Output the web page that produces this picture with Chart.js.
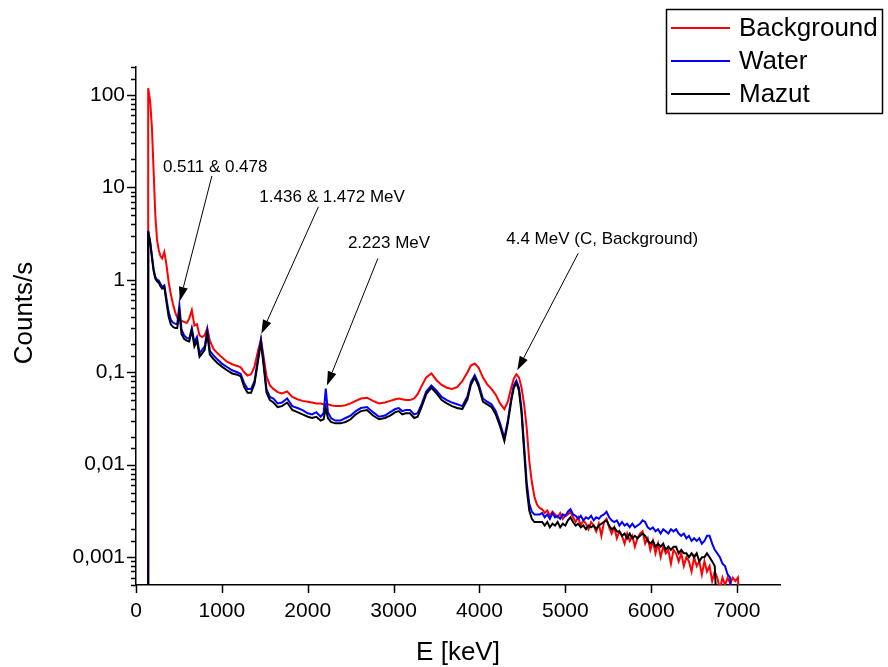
<!DOCTYPE html>
<html>
<head>
<meta charset="utf-8">
<script src="https://cdn.jsdelivr.net/npm/chart.js@4.4.1/dist/chart.umd.min.js"></script>
<style>
  html, body { margin: 0; padding: 0; background: #fff; }
  #spectrum { display: block; }
</style>
</head>
<body>
<canvas id="spectrum" width="888" height="667"></canvas>
<script>
// Energy grid (keV) shared by the three spectra
const energyKeV = [
  140, 142, 165, 185, 205, 225, 245, 265, 285, 305,
  330, 355, 380, 405, 430, 455, 480, 505, 530, 560,
  590, 620, 650, 680, 710, 740, 770, 800, 830, 860,
  900, 950, 1000, 1060, 1120, 1180, 1220, 1260, 1300, 1340,
  1380, 1420, 1455, 1490, 1520, 1560, 1600, 1650, 1700, 1760,
  1820, 1880, 1940, 2000, 2050, 2100, 2150, 2185, 2210, 2235,
  2270, 2320, 2380, 2440, 2500, 2560, 2620, 2690, 2760, 2830,
  2900, 2960, 3020, 3060, 3100, 3140, 3190, 3240, 3280, 3330,
  3380, 3440, 3500, 3560, 3620, 3680, 3740, 3800, 3860, 3900,
  3945, 3990, 4040, 4090, 4140, 4190, 4240, 4290, 4330, 4370,
  4400, 4430, 4460, 4490, 4520, 4550, 4580, 4610, 4640, 4670,
  4700, 4730, 4760, 4790, 4820, 4850, 4880, 4910, 4940, 4970,
  5000, 5030, 5060, 5090, 5120, 5150, 5180, 5210, 5240, 5270,
  5300, 5330, 5360, 5390, 5420, 5450, 5480, 5510, 5540, 5570,
  5600, 5630, 5660, 5690, 5720, 5750, 5780, 5810, 5840, 5870,
  5900, 5930, 5960, 5990, 6020, 6050, 6080, 6110, 6140, 6170,
  6200, 6230, 6260, 6290, 6320, 6350, 6380, 6410, 6440, 6470,
  6500, 6530, 6560, 6590, 6620, 6650, 6680, 6710, 6740, 6770,
  6800, 6830, 6860, 6890, 6920, 6950, 6980, 7010, 7040
];

// Counts/s
const backgroundCounts = [
  0.0001, 118, 85, 45, 15, 5.0, 2.7, 2.1, 1.8, 1.7,
  2.0, 1.45, 0.95, 0.7, 0.55, 0.45, 0.39, 0.36, 0.36, 0.35,
  0.34, 0.38, 0.47, 0.32, 0.33, 0.25, 0.24, 0.25, 0.30, 0.22,
  0.18, 0.16, 0.145, 0.13, 0.122, 0.117, 0.113, 0.10, 0.092, 0.095,
  0.115, 0.17, 0.225, 0.14, 0.09, 0.072, 0.066, 0.061, 0.059, 0.062,
  0.054, 0.051, 0.049, 0.048, 0.047, 0.046, 0.046, 0.045, 0.045, 0.045,
  0.044, 0.043, 0.043, 0.044, 0.046, 0.049, 0.052, 0.053, 0.049, 0.046,
  0.047, 0.049, 0.051, 0.052, 0.051, 0.05, 0.05, 0.052, 0.058, 0.072,
  0.088, 0.097, 0.082, 0.073, 0.068, 0.066, 0.069, 0.08, 0.1, 0.118,
  0.124, 0.112, 0.088, 0.074, 0.066, 0.057, 0.046, 0.04, 0.048, 0.068,
  0.085, 0.095, 0.088, 0.068, 0.045, 0.025, 0.011, 0.0065, 0.0045, 0.0037,
  0.0034, 0.0033, 0.0030, 0.0032, 0.0028, 0.0031, 0.0029, 0.0027, 0.0030, 0.0026,
  0.0028, 0.0029, 0.0031, 0.0027, 0.0024, 0.0027, 0.0022, 0.0025, 0.0023, 0.0020,
  0.0024, 0.0022, 0.0019, 0.0023, 0.0017, 0.0024, 0.0026, 0.0021, 0.0018, 0.0021,
  0.0016, 0.0019, 0.0017, 0.0014, 0.0018, 0.0015, 0.0017, 0.0013, 0.0016, 0.0018,
  0.0019, 0.0014, 0.0016, 0.0012, 0.0015, 0.0011, 0.0014, 0.0010, 0.0013, 0.0011,
  0.0012, 0.00085, 0.0012, 0.0011, 0.0009, 0.0011, 0.0008, 0.0010, 0.0009, 0.0007,
  0.0010, 0.0008, 0.0009, 0.00065, 0.0009, 0.0007, 0.0008, 0.00055, 0.0007, 0.0006,
  0.00045, 0.0006, 0.0005, 0.0006, 0.00052, 0.0006, 0.00055, 0.0006, 0.0002
];

const waterCounts = [
  0.0001, 3.4, 2.6, 1.85, 1.3, 1.07, 1.0, 0.98, 0.9, 0.83,
  0.87, 0.62, 0.45, 0.37, 0.345, 0.335, 0.33, 0.53, 0.29, 0.25,
  0.235, 0.23, 0.30, 0.21, 0.24, 0.16, 0.175, 0.19, 0.285, 0.17,
  0.153, 0.137, 0.124, 0.114, 0.105, 0.1, 0.096, 0.076, 0.066, 0.066,
  0.08, 0.14, 0.225, 0.12, 0.065, 0.054, 0.052, 0.046, 0.047, 0.052,
  0.043, 0.041, 0.039, 0.036, 0.035, 0.037, 0.033, 0.036, 0.0665, 0.037,
  0.032, 0.030, 0.030, 0.032, 0.034, 0.038, 0.041, 0.042, 0.037, 0.033,
  0.034, 0.037, 0.040, 0.041, 0.038, 0.039, 0.039, 0.035, 0.036, 0.046,
  0.062, 0.072, 0.063, 0.054, 0.05, 0.047, 0.045, 0.043, 0.055, 0.078,
  0.093, 0.075, 0.052, 0.048, 0.045, 0.038, 0.028, 0.0196, 0.03, 0.052,
  0.072, 0.081, 0.068, 0.04, 0.016, 0.0065, 0.0038, 0.0031, 0.0029, 0.0029,
  0.0029, 0.0030, 0.0027, 0.0029, 0.0026, 0.0030, 0.0027, 0.0028, 0.0026, 0.0029,
  0.0028, 0.0031, 0.0033, 0.0029, 0.0028, 0.0026, 0.0028, 0.0025, 0.0027, 0.0026,
  0.0028, 0.0025, 0.0027, 0.0026, 0.0028, 0.0029, 0.0031, 0.0027, 0.0025, 0.0024,
  0.0025, 0.0022, 0.0024, 0.0022, 0.0023, 0.0021, 0.0023, 0.0021, 0.0022, 0.0023,
  0.0025, 0.0024, 0.0021, 0.0020, 0.0021, 0.0019, 0.0020, 0.0018, 0.0020, 0.0019,
  0.0018, 0.0020, 0.0019, 0.0020, 0.0018, 0.0017, 0.0018, 0.0016, 0.0017, 0.0015,
  0.0016, 0.0015, 0.0016, 0.0014, 0.0015, 0.0017, 0.0017, 0.0014, 0.0012, 0.0011,
  0.0010, 0.00085, 0.0008, 0.00065, 0.0006, 0.0002, null, null, null
];

const mazutCounts = [
  0.0001, 3.3, 2.5, 1.75, 1.25, 1.03, 0.96, 0.93, 0.85, 0.8,
  0.83, 0.57, 0.4, 0.33, 0.31, 0.3, 0.3, 0.45, 0.26, 0.23,
  0.22, 0.215, 0.285, 0.19, 0.22, 0.147, 0.16, 0.175, 0.26, 0.155,
  0.14, 0.125, 0.115, 0.105, 0.097, 0.094, 0.09, 0.069, 0.06, 0.06,
  0.075, 0.13, 0.21, 0.11, 0.06, 0.05, 0.047, 0.042, 0.043, 0.047,
  0.039, 0.037, 0.035, 0.033, 0.032, 0.033, 0.03, 0.031, 0.041, 0.032,
  0.029, 0.028, 0.028, 0.029, 0.031, 0.035, 0.038, 0.039, 0.034, 0.031,
  0.032, 0.034, 0.037, 0.038, 0.035, 0.036, 0.036, 0.032, 0.033, 0.043,
  0.058, 0.068, 0.059, 0.05, 0.046, 0.043, 0.041, 0.04, 0.051, 0.073,
  0.088, 0.07, 0.048, 0.045, 0.042, 0.035, 0.026, 0.018, 0.028, 0.049,
  0.068, 0.077, 0.063, 0.036, 0.014, 0.0055, 0.0032, 0.0026, 0.0024, 0.0024,
  0.0024, 0.0024, 0.0022, 0.0024, 0.0021, 0.0023, 0.0022, 0.0024, 0.0021, 0.0023,
  0.0022, 0.0025, 0.0027, 0.0024, 0.0022, 0.0023, 0.0021, 0.0022, 0.0020, 0.0022,
  0.0021, 0.0022, 0.0020, 0.0022, 0.0023, 0.0024, 0.0025, 0.0022, 0.0020, 0.0021,
  0.0019, 0.0019, 0.0017, 0.0018, 0.0016, 0.0018, 0.0016, 0.0017, 0.0016, 0.0017,
  0.0018, 0.0017, 0.0015, 0.0014, 0.0015, 0.0013, 0.0014, 0.0013, 0.0014, 0.0012,
  0.0013, 0.0012, 0.0013, 0.0013, 0.0011, 0.0012, 0.0011, 0.0011, 0.0010, 0.0011,
  0.0010, 0.0011, 0.0009, 0.0010, 0.0010, 0.0011, 0.0010, 0.0009, 0.0008, 0.0002,
  null, null, null, null, null, null, null, null, null
];

const seriesNames = ['Background', 'Water', 'Mazut'];
const seriesColors = ['#ff0000', '#0000ff', '#000000'];

const xTickValues = [0, 1000, 2000, 3000, 4000, 5000, 6000, 7000];
const yTickValues = [100, 10, 1, 0.1, 0.01, 0.001];
const yTickLabels = ['100', '10', '1', '0,1', '0,01', '0,001'];

// Peak callouts: text, peak energy (keV), counts at arrow tip
const calloutLabels = ['0.511 & 0.478', '1.436 & 1.472 MeV', '2.223 MeV', '4.4 MeV (C, Background)'];
const calloutKeV = [511, 1460, 2223, 4440];
const calloutCounts = [0.59, 0.26, 0.072, 0.105];

const FONT = 'Arial, "Liberation Sans", Helvetica, sans-serif';

const pairs = (ys) => energyKeV.map((x, i) => ({ x, y: ys[i] }));
const isDecade = (v) => Math.abs(Math.log10(v) - Math.round(Math.log10(v))) < 1e-6;

// tail/text offsets for each callout arrow, px relative to the tip
const calloutGeom = [
  { tail: [32, -125], text: [-17, -134] },
  { tail: [57, -127], text: [-2, -137] },
  { tail: [51, -127], text: [21, -142] },
  { tail: [61, -117], text: [-11, -131] }
];

const decor = {
  id: 'decor',
  afterDraw(chart) {
    const { ctx, chartArea: a, scales: { x, y } } = chart;
    ctx.save();

    // tick marks (outside), long on decades
    ctx.strokeStyle = '#000';
    ctx.lineWidth = 1.5;
    ctx.beginPath();
    y.ticks.forEach((t) => {
      const py = Math.round(y.getPixelForValue(t.value)) + 0.5;
      const len = isDecade(t.value) ? 9 : 5;
      ctx.moveTo(a.left, py);
      ctx.lineTo(a.left - len, py);
    });
    x.ticks.forEach((t) => {
      const px = Math.round(x.getPixelForValue(t.value)) + 0.5;
      ctx.moveTo(px, a.bottom);
      ctx.lineTo(px, a.bottom + 8);
    });
    ctx.stroke();

    // axis titles
    ctx.fillStyle = '#000';
    ctx.font = `26px ${FONT}`;
    ctx.textAlign = 'center';
    ctx.textBaseline = 'middle';
    ctx.fillText('E [keV]', (a.left + a.right) / 2, 653);
    ctx.save();
    ctx.translate(25, 313);
    ctx.rotate(-Math.PI / 2);
    ctx.fillText('Counts/s', 0, 0);
    ctx.restore();

    // callouts
    ctx.font = `17px ${FONT}`;
    ctx.textAlign = 'left';
    calloutLabels.forEach((label, i) => {
      const tx = x.getPixelForValue(calloutKeV[i]);
      const ty = y.getPixelForValue(calloutCounts[i]);
      const g = calloutGeom[i];
      const sx = tx + g.tail[0], sy = ty + g.tail[1];
      const ang = Math.atan2(ty - sy, tx - sx);
      const headLen = 14, headHalf = 4.5;
      const bx = tx - headLen * Math.cos(ang), by = ty - headLen * Math.sin(ang);
      ctx.lineWidth = 1;
      ctx.beginPath();
      ctx.moveTo(sx, sy);
      ctx.lineTo(bx, by);
      ctx.stroke();
      ctx.beginPath();
      ctx.moveTo(tx, ty);
      ctx.lineTo(bx + headHalf * Math.sin(ang), by - headHalf * Math.cos(ang));
      ctx.lineTo(bx - headHalf * Math.sin(ang), by + headHalf * Math.cos(ang));
      ctx.closePath();
      ctx.fill();
      ctx.fillText(label, tx + g.text[0], ty + g.text[1]);
    });

    // legend box
    ctx.lineWidth = 1.5;
    ctx.strokeRect(666.5, 9.5, 216, 104);
    ctx.font = `26px ${FONT}`;
    seriesNames.forEach((name, i) => {
      const ly = 28 + i * 33;
      ctx.strokeStyle = seriesColors[i];
      ctx.lineWidth = 2;
      ctx.beginPath();
      ctx.moveTo(671, ly);
      ctx.lineTo(730, ly);
      ctx.stroke();
      ctx.fillStyle = '#000';
      ctx.fillText(name, 739, ly + 1);
    });

    ctx.restore();
  }
};

new Chart(document.getElementById('spectrum'), {
  type: 'line',
  data: {
    datasets: [
      { label: seriesNames[0], data: pairs(backgroundCounts), borderColor: seriesColors[0], order: 3 },
      { label: seriesNames[1], data: pairs(waterCounts), borderColor: seriesColors[1], order: 2 },
      { label: seriesNames[2], data: pairs(mazutCounts), borderColor: seriesColors[2], order: 1 }
    ]
  },
  options: {
    responsive: false,
    animation: false,
    devicePixelRatio: 1,
    layout: { padding: { top: 67, right: 108, left: 0, bottom: 0 } },
    elements: {
      point: { radius: 0 },
      line: { borderWidth: 2, tension: 0, fill: false }
    },
    plugins: {
      legend: { display: false },
      tooltip: { enabled: false }
    },
    scales: {
      x: {
        type: 'linear',
        min: 0,
        max: 7500,
        afterFit: (s) => { s.height = 82; },
        afterBuildTicks: (s) => { s.ticks = xTickValues.map((value) => ({ value })); },
        grid: { display: false, drawTicks: false },
        border: { display: true, color: '#000', width: 1.5 },
        ticks: {
          autoSkip: false,
          maxRotation: 0,
          padding: 14,
          color: '#000',
          font: { family: FONT, size: 21 },
          callback: (v) => String(v)
        }
      },
      y: {
        type: 'logarithmic',
        min: 0.0005,
        max: 200,
        afterFit: (s) => { s.width = 136; },
        grid: { display: false, drawTicks: false },
        border: { display: true, color: '#000', width: 1.5 },
        ticks: {
          autoSkip: false,
          padding: 11,
          color: '#000',
          font: { family: FONT, size: 21 },
          callback: (v) => {
            const i = yTickValues.findIndex((t) => Math.abs(t - v) / t < 1e-6);
            return i >= 0 ? yTickLabels[i] : '';
          }
        }
      }
    }
  },
  plugins: [decor]
});
</script>
</body>
</html>
